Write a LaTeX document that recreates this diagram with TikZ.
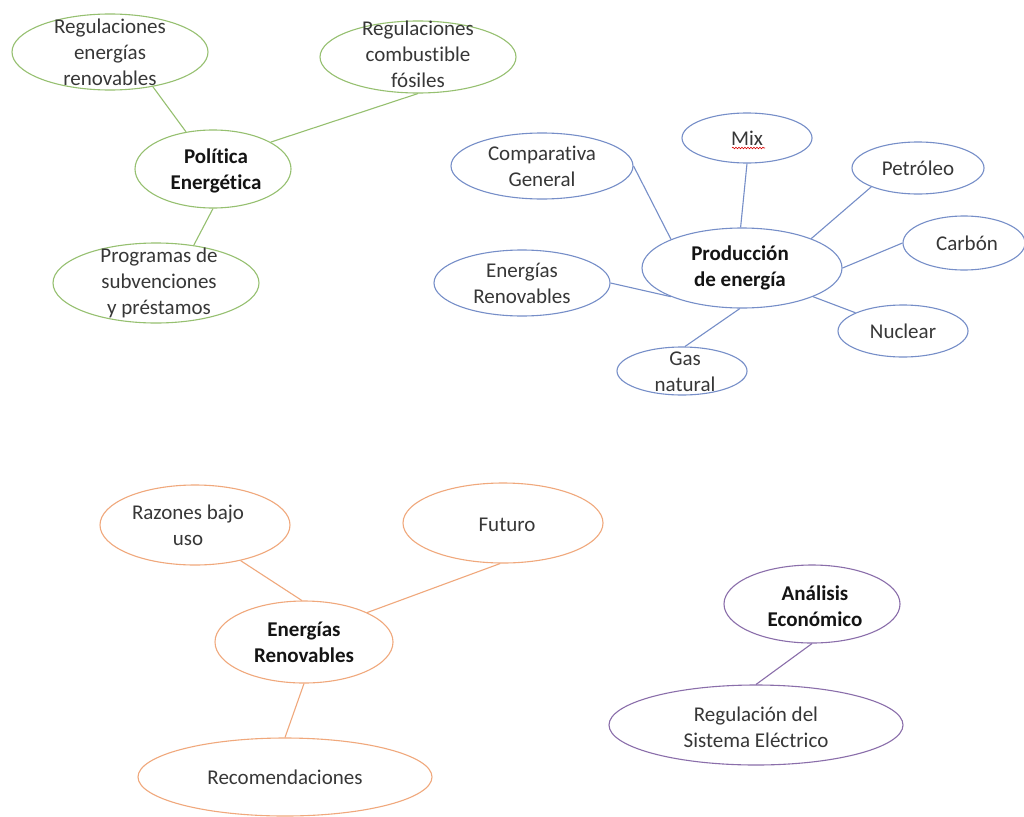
\documentclass[tikz,border=0pt]{standalone}
\usepackage{fontspec}
\setmainfont{Carlito}[Ligatures={NoCommon,NoRequired,NoContextual}]
\usetikzlibrary{shapes.geometric,decorations.pathmorphing}
\definecolor{grn}{RGB}{150,192,112}
\definecolor{blu}{RGB}{118,142,200}
\definecolor{org}{RGB}{240,168,124}
\definecolor{pur}{RGB}{138,110,170}
\definecolor{txtc}{RGB}{55,55,55}
\definecolor{btxtc}{RGB}{20,20,20}
\begin{document}
\begin{tikzpicture}[x=1pt,y=-1pt,
  bub/.style={ellipse, draw, line width=1.1pt, inner sep=0pt},
  txt/.style={align=center, font=\fontsize{21}{26}\selectfont, text=txtc},
  btxt/.style={align=center, font=\fontsize{21}{26}\selectfont\bfseries, text=btxtc},
  con/.style={line width=1.1pt},
  gb/.style={bub, draw=grn},
  bb/.style={bub, draw=blu},
  ob/.style={bub, draw=org},
  pb/.style={bub, draw=pur}
]
\fill[white] (0,0) rectangle (1024,816);
\useasboundingbox (0,0) rectangle (1024,816);

% Política Energética cluster
\node[gb, minimum width=196pt, minimum height=76pt, label={[txt]center:{Regulaciones\\energías\\renovables}}] (ren) at (110,52) {};
\node[gb, minimum width=196pt, minimum height=72pt, label={[txt, yshift=3pt]center:{Regulaciones\\combustible\\fósiles}}] (fos) at (418,57) {};
\node[gb, minimum width=156pt, minimum height=78pt, label={[btxt, yshift=-2pt, xshift=3pt]center:{Política\\Energética}}] (pol) at (213,169) {};
\node[gb, minimum width=206pt, minimum height=80pt, label={[txt, xshift=3pt]center:{Programas de\\subvenciones\\y préstamos}}] (prog) at (156,283) {};
\draw[con, grn] (ren.-39) -- (pol.126);
\draw[con, grn] (fos.270) -- (pol.25);
\draw[con, grn] (pol.270) -- (prog.45);

% Producción de energía cluster
\node[bb, minimum width=182pt, minimum height=66pt, label={[txt]center:{Comparativa\\General}}] (cg) at (542,166) {};
\node[bb, minimum width=130pt, minimum height=50pt, label={[txt]center:{Mix}}] (mix) at (747,138) {};
\node[bb, minimum width=132pt, minimum height=52pt, label={[txt]center:{Petróleo}}] (pet) at (918,168) {};
\node[bb, minimum width=122pt, minimum height=54pt, label={[txt, xshift=3pt]center:{Carbón}}] (car) at (964,243) {};
\node[bb, minimum width=200pt, minimum height=80pt, label={[btxt, xshift=-2pt]center:{Producción\\de energía}}] (pe) at (742,268) {};
\node[bb, minimum width=176pt, minimum height=66pt, label={[txt]center:{Energías\\Renovables}}] (erb) at (522,283) {};
\node[bb, minimum width=130pt, minimum height=52pt, label={[txt]center:{Nuclear}}] (nuc) at (903,331) {};
\node[bb, minimum width=130pt, minimum height=48pt, label={[txt, xshift=3pt, yshift=-1pt]center:{Gas\\natural}}] (gas) at (682,371) {};
\draw[red!85!black, line width=0.6pt, decorate, decoration={snake, amplitude=0.8pt, segment length=3pt}]
  ([xshift=-15pt,yshift=-10pt]mix.center) -- ([xshift=18pt,yshift=-10pt]mix.center);
\draw[con, blu] (cg.east) -- (pe.158);
\draw[con, blu] (mix.270) -- (pe.92);
\draw[con, blu] (pet.202) -- (pe.23);
\draw[con, blu] (car.west) -- (pe.0);
\draw[con, blu] (nuc.159) -- (pe.-22);
\draw[con, blu] (gas.83) -- (pe.267);
\draw[con, blu] (erb.east) -- (pe.202);

% Energías Renovables cluster
\node[ob, minimum width=190pt, minimum height=80pt, label={[txt, xshift=-7pt]center:{Razones bajo\\uso}}] (raz) at (195,525) {};
\node[ob, minimum width=200pt, minimum height=80pt, label={[txt, xshift=4pt, yshift=-2pt]center:{Futuro}}] (fut) at (503,523) {};
\node[ob, minimum width=178pt, minimum height=82pt, label={[btxt]center:{Energías\\Renovables}}] (ero) at (304,642) {};
\node[ob, minimum width=294pt, minimum height=78pt, label={[txt]center:{Recomendaciones}}] (rec) at (285,777) {};
\draw[con, org] (raz.-38) -- (ero.93);
\draw[con, org] (fut.266) -- (ero.25);
\draw[con, org] (ero.270) -- (rec.90);

% Análisis Económico cluster
\node[pb, minimum width=176pt, minimum height=78pt, label={[btxt, xshift=3pt, yshift=-2pt]center:{Análisis\\Económico}}] (ana) at (812,604) {};
\node[pb, minimum width=294pt, minimum height=80pt, label={[txt, yshift=-2pt]center:{Regulación del\\Sistema Eléctrico}}] (rse) at (756,725) {};
\draw[con, pur] (ana.270) -- (rse.90);
\end{tikzpicture}
\end{document}
